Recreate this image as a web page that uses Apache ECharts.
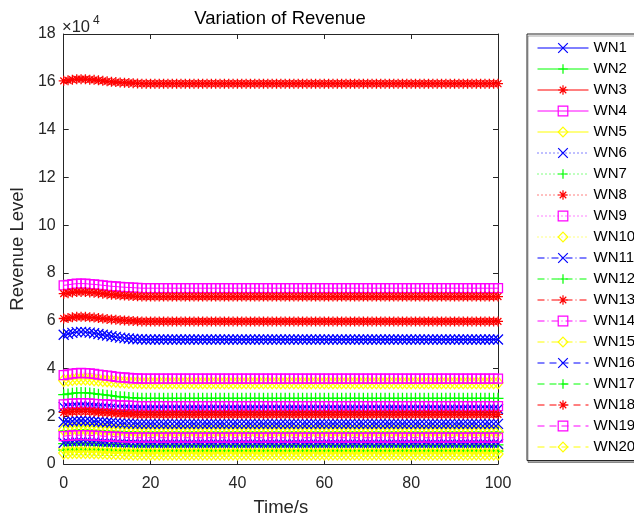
<!DOCTYPE html>
<html>
<head>
<meta charset="utf-8">
<script src="https://cdn.jsdelivr.net/npm/echarts@6/dist/echarts.min.js"></script>
<style>html,body{margin:0;padding:0;background:#fff}#c{width:634px;height:522px}</style>
</head>
<body>
<div id="c"></div>
<script>
// Time (s)
const time = [0,1,2,3,4,5,6,7,8,9,10,11,12,13,14,15,16,17,18,19,20,21,22,23,24,25,26,27,28,29,30,31,32,33,34,35,36,37,38,39,40,41,42,43,44,45,46,47,48,49,50,51,52,53,54,55,56,57,58,59,60,61,62,63,64,65,66,67,68,69,70,71,72,73,74,75,76,77,78,79,80,81,82,83,84,85,86,87,88,89,90,91,92,93,94,95,96,97,98,99,100];
// y tick labels (x10^4)
const yTicks = [0,2,4,6,8,10,12,14,16,18];
const xTicks = [0,20,40,60,80,100];
const names = ['WN1','WN2','WN3','WN4','WN5','WN6','WN7','WN8','WN9','WN10','WN11','WN12','WN13','WN14','WN15','WN16','WN17','WN18','WN19','WN20'];
// Revenue values in units of 10^4
const WN1 = [5.41,5.45,5.49,5.52,5.53,5.52,5.50,5.47,5.44,5.41,5.38,5.35,5.32,5.29,5.27,5.25,5.23,5.22,5.22,5.21,5.21,
5.21,5.21,5.21,5.21,5.21,5.21,5.21,5.21,5.21,5.21,
5.21,5.21,5.21,5.21,5.21,5.21,5.21,5.21,5.21,5.21,
5.21,5.21,5.21,5.21,5.21,5.21,5.21,5.21,5.21,5.21,
5.21,5.21,5.21,5.21,5.21,5.21,5.21,5.21,5.21,5.21,
5.21,5.21,5.21,5.21,5.21,5.21,5.21,5.21,5.21,5.21,
5.21,5.21,5.21,5.21,5.21,5.21,5.21,5.21,5.21,5.21,
5.21,5.21,5.21,5.21,5.21,5.21,5.21,5.21,5.21,5.21,
5.21,5.21,5.21,5.21,5.21,5.21,5.21,5.21,5.21,5.21];
const WN2 = [2.90,2.93,2.96,2.98,2.99,2.98,2.97,2.95,2.92,2.90,2.88,2.86,2.83,2.81,2.80,2.78,2.77,2.76,2.75,2.75,2.75,
2.75,2.75,2.75,2.75,2.75,2.75,2.75,2.75,2.75,2.75,
2.75,2.75,2.75,2.75,2.75,2.75,2.75,2.75,2.75,2.75,
2.75,2.75,2.75,2.75,2.75,2.75,2.75,2.75,2.75,2.75,
2.75,2.75,2.75,2.75,2.75,2.75,2.75,2.75,2.75,2.75,
2.75,2.75,2.75,2.75,2.75,2.75,2.75,2.75,2.75,2.75,
2.75,2.75,2.75,2.75,2.75,2.75,2.75,2.75,2.75,2.75,
2.75,2.75,2.75,2.75,2.75,2.75,2.75,2.75,2.75,2.75,
2.75,2.75,2.75,2.75,2.75,2.75,2.75,2.75,2.75,2.75];
const WN3 = [16.04,16.06,16.09,16.11,16.11,16.11,16.09,16.08,16.06,16.04,16.02,16.00,15.99,15.97,15.96,15.95,15.94,15.93,15.92,15.92,15.92,
15.92,15.92,15.92,15.92,15.92,15.92,15.92,15.92,15.92,15.92,
15.92,15.92,15.92,15.92,15.92,15.92,15.92,15.92,15.92,15.92,
15.92,15.92,15.92,15.92,15.92,15.92,15.92,15.92,15.92,15.92,
15.92,15.92,15.92,15.92,15.92,15.92,15.92,15.92,15.92,15.92,
15.92,15.92,15.92,15.92,15.92,15.92,15.92,15.92,15.92,15.92,
15.92,15.92,15.92,15.92,15.92,15.92,15.92,15.92,15.92,15.92,
15.92,15.92,15.92,15.92,15.92,15.92,15.92,15.92,15.92,15.92,
15.92,15.92,15.92,15.92,15.92,15.92,15.92,15.92,15.92,15.92];
const WN4 = [7.48,7.50,7.53,7.55,7.55,7.55,7.53,7.52,7.50,7.48,7.46,7.44,7.43,7.41,7.40,7.39,7.38,7.37,7.36,7.36,7.36,
7.36,7.36,7.36,7.36,7.36,7.36,7.36,7.36,7.36,7.36,
7.36,7.36,7.36,7.36,7.36,7.36,7.36,7.36,7.36,7.36,
7.36,7.36,7.36,7.36,7.36,7.36,7.36,7.36,7.36,7.36,
7.36,7.36,7.36,7.36,7.36,7.36,7.36,7.36,7.36,7.36,
7.36,7.36,7.36,7.36,7.36,7.36,7.36,7.36,7.36,7.36,
7.36,7.36,7.36,7.36,7.36,7.36,7.36,7.36,7.36,7.36,
7.36,7.36,7.36,7.36,7.36,7.36,7.36,7.36,7.36,7.36,
7.36,7.36,7.36,7.36,7.36,7.36,7.36,7.36,7.36,7.36];
const WN5 = [3.50,3.52,3.54,3.56,3.56,3.56,3.55,3.53,3.52,3.50,3.49,3.47,3.46,3.44,3.43,3.42,3.41,3.41,3.40,3.40,3.40,
3.40,3.40,3.40,3.40,3.40,3.40,3.40,3.40,3.40,3.40,
3.40,3.40,3.40,3.40,3.40,3.40,3.40,3.40,3.40,3.40,
3.40,3.40,3.40,3.40,3.40,3.40,3.40,3.40,3.40,3.40,
3.40,3.40,3.40,3.40,3.40,3.40,3.40,3.40,3.40,3.40,
3.40,3.40,3.40,3.40,3.40,3.40,3.40,3.40,3.40,3.40,
3.40,3.40,3.40,3.40,3.40,3.40,3.40,3.40,3.40,3.40,
3.40,3.40,3.40,3.40,3.40,3.40,3.40,3.40,3.40,3.40,
3.40,3.40,3.40,3.40,3.40,3.40,3.40,3.40,3.40,3.40];
const WN6 = [2.38,2.40,2.41,2.42,2.43,2.42,2.42,2.40,2.39,2.38,2.37,2.36,2.34,2.33,2.32,2.32,2.31,2.30,2.30,2.30,2.30,
2.30,2.30,2.30,2.30,2.30,2.30,2.30,2.30,2.30,2.30,
2.30,2.30,2.30,2.30,2.30,2.30,2.30,2.30,2.30,2.30,
2.30,2.30,2.30,2.30,2.30,2.30,2.30,2.30,2.30,2.30,
2.30,2.30,2.30,2.30,2.30,2.30,2.30,2.30,2.30,2.30,
2.30,2.30,2.30,2.30,2.30,2.30,2.30,2.30,2.30,2.30,
2.30,2.30,2.30,2.30,2.30,2.30,2.30,2.30,2.30,2.30,
2.30,2.30,2.30,2.30,2.30,2.30,2.30,2.30,2.30,2.30,
2.30,2.30,2.30,2.30,2.30,2.30,2.30,2.30,2.30,2.30];
const WN7 = [1.39,1.40,1.41,1.42,1.43,1.42,1.42,1.41,1.40,1.39,1.38,1.37,1.36,1.36,1.35,1.34,1.34,1.33,1.33,1.33,1.33,
1.33,1.33,1.33,1.33,1.33,1.33,1.33,1.33,1.33,1.33,
1.33,1.33,1.33,1.33,1.33,1.33,1.33,1.33,1.33,1.33,
1.33,1.33,1.33,1.33,1.33,1.33,1.33,1.33,1.33,1.33,
1.33,1.33,1.33,1.33,1.33,1.33,1.33,1.33,1.33,1.33,
1.33,1.33,1.33,1.33,1.33,1.33,1.33,1.33,1.33,1.33,
1.33,1.33,1.33,1.33,1.33,1.33,1.33,1.33,1.33,1.33,
1.33,1.33,1.33,1.33,1.33,1.33,1.33,1.33,1.33,1.33,
1.33,1.33,1.33,1.33,1.33,1.33,1.33,1.33,1.33,1.33];
const WN8 = [7.13,7.15,7.18,7.20,7.20,7.20,7.18,7.17,7.15,7.13,7.11,7.09,7.08,7.06,7.05,7.04,7.03,7.02,7.01,7.01,7.01,
7.01,7.01,7.01,7.01,7.01,7.01,7.01,7.01,7.01,7.01,
7.01,7.01,7.01,7.01,7.01,7.01,7.01,7.01,7.01,7.01,
7.01,7.01,7.01,7.01,7.01,7.01,7.01,7.01,7.01,7.01,
7.01,7.01,7.01,7.01,7.01,7.01,7.01,7.01,7.01,7.01,
7.01,7.01,7.01,7.01,7.01,7.01,7.01,7.01,7.01,7.01,
7.01,7.01,7.01,7.01,7.01,7.01,7.01,7.01,7.01,7.01,
7.01,7.01,7.01,7.01,7.01,7.01,7.01,7.01,7.01,7.01,
7.01,7.01,7.01,7.01,7.01,7.01,7.01,7.01,7.01,7.01];
const WN9 = [3.72,3.75,3.78,3.80,3.81,3.80,3.79,3.77,3.74,3.72,3.70,3.68,3.65,3.63,3.62,3.60,3.59,3.58,3.57,3.57,3.57,
3.57,3.57,3.57,3.57,3.57,3.57,3.57,3.57,3.57,3.57,
3.57,3.57,3.57,3.57,3.57,3.57,3.57,3.57,3.57,3.57,
3.57,3.57,3.57,3.57,3.57,3.57,3.57,3.57,3.57,3.57,
3.57,3.57,3.57,3.57,3.57,3.57,3.57,3.57,3.57,3.57,
3.57,3.57,3.57,3.57,3.57,3.57,3.57,3.57,3.57,3.57,
3.57,3.57,3.57,3.57,3.57,3.57,3.57,3.57,3.57,3.57,
3.57,3.57,3.57,3.57,3.57,3.57,3.57,3.57,3.57,3.57,
3.57,3.57,3.57,3.57,3.57,3.57,3.57,3.57,3.57,3.57];
const WN10 = [1.43,1.44,1.45,1.46,1.47,1.46,1.46,1.45,1.44,1.43,1.42,1.41,1.40,1.40,1.39,1.38,1.38,1.37,1.37,1.37,1.37,
1.37,1.37,1.37,1.37,1.37,1.37,1.37,1.37,1.37,1.37,
1.37,1.37,1.37,1.37,1.37,1.37,1.37,1.37,1.37,1.37,
1.37,1.37,1.37,1.37,1.37,1.37,1.37,1.37,1.37,1.37,
1.37,1.37,1.37,1.37,1.37,1.37,1.37,1.37,1.37,1.37,
1.37,1.37,1.37,1.37,1.37,1.37,1.37,1.37,1.37,1.37,
1.37,1.37,1.37,1.37,1.37,1.37,1.37,1.37,1.37,1.37,
1.37,1.37,1.37,1.37,1.37,1.37,1.37,1.37,1.37,1.37,
1.37,1.37,1.37,1.37,1.37,1.37,1.37,1.37,1.37,1.37];
const WN11 = [1.76,1.78,1.79,1.80,1.81,1.80,1.80,1.78,1.77,1.76,1.75,1.74,1.72,1.71,1.70,1.70,1.69,1.68,1.68,1.68,1.68,
1.68,1.68,1.68,1.68,1.68,1.68,1.68,1.68,1.68,1.68,
1.68,1.68,1.68,1.68,1.68,1.68,1.68,1.68,1.68,1.68,
1.68,1.68,1.68,1.68,1.68,1.68,1.68,1.68,1.68,1.68,
1.68,1.68,1.68,1.68,1.68,1.68,1.68,1.68,1.68,1.68,
1.68,1.68,1.68,1.68,1.68,1.68,1.68,1.68,1.68,1.68,
1.68,1.68,1.68,1.68,1.68,1.68,1.68,1.68,1.68,1.68,
1.68,1.68,1.68,1.68,1.68,1.68,1.68,1.68,1.68,1.68,
1.68,1.68,1.68,1.68,1.68,1.68,1.68,1.68,1.68,1.68];
const WN12 = [0.85,0.86,0.87,0.88,0.88,0.88,0.87,0.87,0.86,0.85,0.84,0.84,0.83,0.82,0.82,0.81,0.81,0.80,0.80,0.80,0.80,
0.80,0.80,0.80,0.80,0.80,0.80,0.80,0.80,0.80,0.80,
0.80,0.80,0.80,0.80,0.80,0.80,0.80,0.80,0.80,0.80,
0.80,0.80,0.80,0.80,0.80,0.80,0.80,0.80,0.80,0.80,
0.80,0.80,0.80,0.80,0.80,0.80,0.80,0.80,0.80,0.80,
0.80,0.80,0.80,0.80,0.80,0.80,0.80,0.80,0.80,0.80,
0.80,0.80,0.80,0.80,0.80,0.80,0.80,0.80,0.80,0.80,
0.80,0.80,0.80,0.80,0.80,0.80,0.80,0.80,0.80,0.80,
0.80,0.80,0.80,0.80,0.80,0.80,0.80,0.80,0.80,0.80];
const WN13 = [6.09,6.11,6.14,6.16,6.16,6.16,6.14,6.13,6.11,6.09,6.07,6.05,6.04,6.02,6.01,6.00,5.99,5.98,5.97,5.97,5.97,
5.97,5.97,5.97,5.97,5.97,5.97,5.97,5.97,5.97,5.97,
5.97,5.97,5.97,5.97,5.97,5.97,5.97,5.97,5.97,5.97,
5.97,5.97,5.97,5.97,5.97,5.97,5.97,5.97,5.97,5.97,
5.97,5.97,5.97,5.97,5.97,5.97,5.97,5.97,5.97,5.97,
5.97,5.97,5.97,5.97,5.97,5.97,5.97,5.97,5.97,5.97,
5.97,5.97,5.97,5.97,5.97,5.97,5.97,5.97,5.97,5.97,
5.97,5.97,5.97,5.97,5.97,5.97,5.97,5.97,5.97,5.97,
5.97,5.97,5.97,5.97,5.97,5.97,5.97,5.97,5.97,5.97];
const WN14 = [2.50,2.52,2.53,2.54,2.55,2.54,2.54,2.52,2.51,2.50,2.49,2.48,2.46,2.45,2.44,2.44,2.43,2.42,2.42,2.42,2.42,
2.42,2.42,2.42,2.42,2.42,2.42,2.42,2.42,2.42,2.42,
2.42,2.42,2.42,2.42,2.42,2.42,2.42,2.42,2.42,2.42,
2.42,2.42,2.42,2.42,2.42,2.42,2.42,2.42,2.42,2.42,
2.42,2.42,2.42,2.42,2.42,2.42,2.42,2.42,2.42,2.42,
2.42,2.42,2.42,2.42,2.42,2.42,2.42,2.42,2.42,2.42,
2.42,2.42,2.42,2.42,2.42,2.42,2.42,2.42,2.42,2.42,
2.42,2.42,2.42,2.42,2.42,2.42,2.42,2.42,2.42,2.42,
2.42,2.42,2.42,2.42,2.42,2.42,2.42,2.42,2.42,2.42];
const WN15 = [0.66,0.67,0.68,0.68,0.68,0.68,0.68,0.67,0.67,0.66,0.65,0.65,0.64,0.64,0.63,0.63,0.62,0.62,0.62,0.62,0.62,
0.62,0.62,0.62,0.62,0.62,0.62,0.62,0.62,0.62,0.62,
0.62,0.62,0.62,0.62,0.62,0.62,0.62,0.62,0.62,0.62,
0.62,0.62,0.62,0.62,0.62,0.62,0.62,0.62,0.62,0.62,
0.62,0.62,0.62,0.62,0.62,0.62,0.62,0.62,0.62,0.62,
0.62,0.62,0.62,0.62,0.62,0.62,0.62,0.62,0.62,0.62,
0.62,0.62,0.62,0.62,0.62,0.62,0.62,0.62,0.62,0.62,
0.62,0.62,0.62,0.62,0.62,0.62,0.62,0.62,0.62,0.62,
0.62,0.62,0.62,0.62,0.62,0.62,0.62,0.62,0.62,0.62];
const WN16 = [0.89,0.90,0.91,0.92,0.92,0.92,0.91,0.91,0.90,0.89,0.88,0.88,0.87,0.86,0.86,0.85,0.85,0.84,0.84,0.84,0.84,
0.84,0.84,0.84,0.84,0.84,0.84,0.84,0.84,0.84,0.84,
0.84,0.84,0.84,0.84,0.84,0.84,0.84,0.84,0.84,0.84,
0.84,0.84,0.84,0.84,0.84,0.84,0.84,0.84,0.84,0.84,
0.84,0.84,0.84,0.84,0.84,0.84,0.84,0.84,0.84,0.84,
0.84,0.84,0.84,0.84,0.84,0.84,0.84,0.84,0.84,0.84,
0.84,0.84,0.84,0.84,0.84,0.84,0.84,0.84,0.84,0.84,
0.84,0.84,0.84,0.84,0.84,0.84,0.84,0.84,0.84,0.84,
0.84,0.84,0.84,0.84,0.84,0.84,0.84,0.84,0.84,0.84];
const WN17 = [0.58,0.59,0.60,0.60,0.60,0.60,0.60,0.59,0.59,0.58,0.57,0.57,0.56,0.56,0.55,0.55,0.54,0.54,0.54,0.54,0.54,
0.54,0.54,0.54,0.54,0.54,0.54,0.54,0.54,0.54,0.54,
0.54,0.54,0.54,0.54,0.54,0.54,0.54,0.54,0.54,0.54,
0.54,0.54,0.54,0.54,0.54,0.54,0.54,0.54,0.54,0.54,
0.54,0.54,0.54,0.54,0.54,0.54,0.54,0.54,0.54,0.54,
0.54,0.54,0.54,0.54,0.54,0.54,0.54,0.54,0.54,0.54,
0.54,0.54,0.54,0.54,0.54,0.54,0.54,0.54,0.54,0.54,
0.54,0.54,0.54,0.54,0.54,0.54,0.54,0.54,0.54,0.54,
0.54,0.54,0.54,0.54,0.54,0.54,0.54,0.54,0.54,0.54];
const WN18 = [2.16,2.18,2.19,2.20,2.21,2.20,2.20,2.18,2.17,2.16,2.15,2.14,2.12,2.11,2.10,2.10,2.09,2.08,2.08,2.08,2.08,
2.08,2.08,2.08,2.08,2.08,2.08,2.08,2.08,2.08,2.08,
2.08,2.08,2.08,2.08,2.08,2.08,2.08,2.08,2.08,2.08,
2.08,2.08,2.08,2.08,2.08,2.08,2.08,2.08,2.08,2.08,
2.08,2.08,2.08,2.08,2.08,2.08,2.08,2.08,2.08,2.08,
2.08,2.08,2.08,2.08,2.08,2.08,2.08,2.08,2.08,2.08,
2.08,2.08,2.08,2.08,2.08,2.08,2.08,2.08,2.08,2.08,
2.08,2.08,2.08,2.08,2.08,2.08,2.08,2.08,2.08,2.08,
2.08,2.08,2.08,2.08,2.08,2.08,2.08,2.08,2.08,2.08];
const WN19 = [1.17,1.18,1.20,1.21,1.21,1.21,1.20,1.19,1.18,1.17,1.16,1.15,1.14,1.13,1.12,1.11,1.11,1.10,1.10,1.10,1.10,
1.10,1.10,1.10,1.10,1.10,1.10,1.10,1.10,1.10,1.10,
1.10,1.10,1.10,1.10,1.10,1.10,1.10,1.10,1.10,1.10,
1.10,1.10,1.10,1.10,1.10,1.10,1.10,1.10,1.10,1.10,
1.10,1.10,1.10,1.10,1.10,1.10,1.10,1.10,1.10,1.10,
1.10,1.10,1.10,1.10,1.10,1.10,1.10,1.10,1.10,1.10,
1.10,1.10,1.10,1.10,1.10,1.10,1.10,1.10,1.10,1.10,
1.10,1.10,1.10,1.10,1.10,1.10,1.10,1.10,1.10,1.10,
1.10,1.10,1.10,1.10,1.10,1.10,1.10,1.10,1.10,1.10];
const WN20 = [0.46,0.47,0.48,0.48,0.48,0.48,0.48,0.47,0.47,0.46,0.45,0.45,0.44,0.44,0.43,0.43,0.42,0.42,0.42,0.42,0.42,
0.42,0.42,0.42,0.42,0.42,0.42,0.42,0.42,0.42,0.42,
0.42,0.42,0.42,0.42,0.42,0.42,0.42,0.42,0.42,0.42,
0.42,0.42,0.42,0.42,0.42,0.42,0.42,0.42,0.42,0.42,
0.42,0.42,0.42,0.42,0.42,0.42,0.42,0.42,0.42,0.42,
0.42,0.42,0.42,0.42,0.42,0.42,0.42,0.42,0.42,0.42,
0.42,0.42,0.42,0.42,0.42,0.42,0.42,0.42,0.42,0.42,
0.42,0.42,0.42,0.42,0.42,0.42,0.42,0.42,0.42,0.42,
0.42,0.42,0.42,0.42,0.42,0.42,0.42,0.42,0.42,0.42];

const values = [WN1,WN2,WN3,WN4,WN5,WN6,WN7,WN8,WN9,WN10,WN11,WN12,WN13,WN14,WN15,WN16,WN17,WN18,WN19,WN20];

// styles
const colors = ['#0000ff','#00ff00','#ff0000','#ff00ff','#ffff00'];
const SYM_X = 'path://M0,0L10,10M10,0L0,10';
const SYM_PLUS = 'path://M5,0L5,10M0,5L10,5';
const SYM_STAR = 'path://M5,0L5,10M0,5L10,5M1.6,1.6L8.4,8.4M8.4,1.6L1.6,8.4';
const symbols = [SYM_X, SYM_PLUS, SYM_STAR, 'rect', 'diamond'];
const symSizes = [10, 11, 10, 9, [10, 12]];
const dashes = ['solid', [1, 3], [7, 3, 1, 3], [7, 5]];
const FONT = 'Liberation Sans, Arial, Helvetica, sans-serif';
const TXT = '#262626';

const series = values.map((vals, i) => {
  const c = colors[i % 5];
  return {
    name: names[i],
    type: 'line',
    data: time.map((t, k) => [t, vals[k]]),
    symbol: symbols[i % 5],
    symbolSize: symSizes[i % 5],
    showSymbol: true,
    showAllSymbol: true,
    silent: true,
    animation: false,
    lineStyle: { color: c, width: 1, type: dashes[Math.floor(i / 5)] },
    itemStyle: { color: 'rgba(0,0,0,0)', borderColor: c, borderWidth: 1.3 },
    emphasis: { disabled: true }
  };
});

const axisCommon = {
  axisLine: { show: true, onZero: false, lineStyle: { color: TXT, width: 1 } },
  axisTick: { show: true, inside: true, length: 5, lineStyle: { color: TXT } },
  splitLine: { show: false }
};

const chart = echarts.init(document.getElementById('c'));
chart.setOption({
  animation: false,
  backgroundColor: '#fff',
  textStyle: { fontFamily: FONT },
  grid: { left: 62, right: 136, top: 34, bottom: 55, containLabel: false },
  xAxis: [
    Object.assign({
      type: 'value', min: xTicks[0], max: xTicks[xTicks.length - 1], interval: 20, position: 'bottom',
      name: 'Time/s', nameLocation: 'middle', nameGap: 34,
      nameTextStyle: { fontSize: 18.5, color: TXT, fontFamily: FONT },
      axisLabel: { fontSize: 16, color: TXT, margin: 12, fontFamily: FONT }
    }, axisCommon),
    Object.assign({
      type: 'value', min: 0, max: 100, interval: 20, position: 'top',
      axisLabel: { show: false }
    }, axisCommon)
  ],
  yAxis: [
    Object.assign({
      type: 'value', min: yTicks[0], max: yTicks[yTicks.length - 1], interval: 2, position: 'left',
      name: 'Revenue Level', nameLocation: 'middle', nameGap: 29,
      nameTextStyle: { fontSize: 18.5, color: TXT, fontFamily: FONT },
      axisLabel: { fontSize: 16, color: TXT, margin: 8, fontFamily: FONT }
    }, axisCommon),
    Object.assign({
      type: 'value', min: 0, max: 18, interval: 2, position: 'right',
      axisLabel: { show: false }
    }, axisCommon)
  ],
  legend: {
    orient: 'vertical',
    left: 527, top: 34,
    padding: [6.5, 22, 6, 10],
    itemWidth: 51, itemHeight: 12, itemGap: 6,
    backgroundColor: '#fff',
    borderColor: TXT, borderWidth: 1,
    shadowColor: 'rgba(0,0,0,0.35)', shadowOffsetX: 1, shadowOffsetY: 2, shadowBlur: 0,
    selectedMode: false,
    textStyle: { fontSize: 15, color: '#000', fontFamily: FONT },
    itemStyle: { borderWidth: 1.2 },
    lineStyle: { width: 1 },
    data: names
  },
  graphic: [
    { type: 'text', x: 280, y: 19, silent: true,
      style: { text: 'Variation of Revenue', fontSize: 18.5, fontFamily: FONT, fill: '#000', align: 'center', verticalAlign: 'middle', textAlign: 'center', textVerticalAlign: 'middle' } },
    { type: 'text', x: 62, y: 27, silent: true,
      style: { text: '×10', fontSize: 16.5, fontFamily: FONT, fill: TXT, align: 'left', verticalAlign: 'middle', textAlign: 'left', textVerticalAlign: 'middle' } },
    { type: 'text', x: 93, y: 21, silent: true,
      style: { text: '4', fontSize: 12, fontFamily: FONT, fill: TXT, align: 'left', verticalAlign: 'middle', textAlign: 'left', textVerticalAlign: 'middle' } }
  ],
  series: series
});
</script>
</body>
</html>
